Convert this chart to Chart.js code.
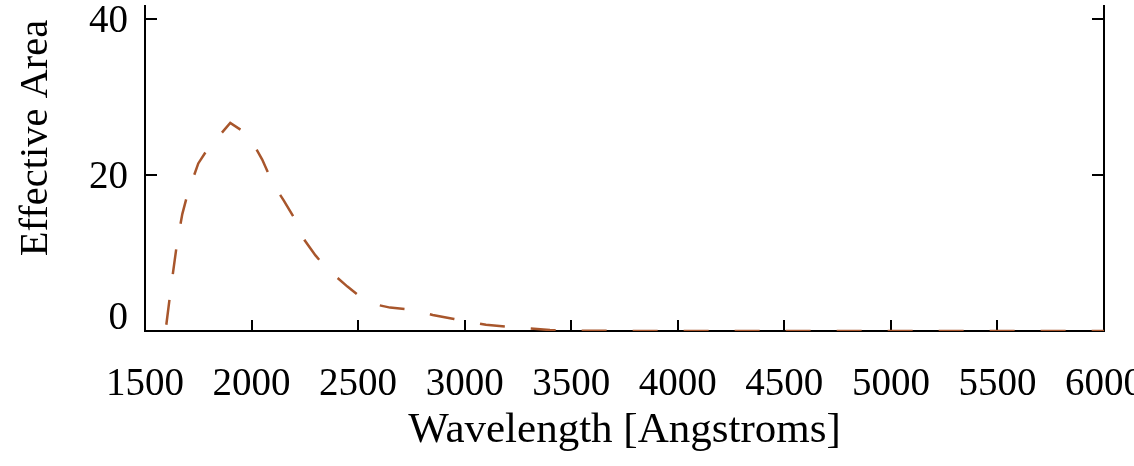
<!DOCTYPE html>
<html>
<head>
<meta charset="utf-8">
<title>Effective Area</title>
<script src="https://cdn.jsdelivr.net/npm/chart.js@4.4.1/dist/chart.umd.min.js"></script>
<style>
    html, body { margin: 0; padding: 0; background: #fff; }
    #wrap { width: 1134px; height: 466px; }
</style>
</head>
<body>
<div id="wrap"><canvas id="chart" width="1134" height="466"></canvas></div>
<script>
// Curve (Angstroms -> effective area)
const wavelengths = [
    1600, 1625, 1650, 1675, 1700, 1750, 1800, 1850, 1900, 1950,
    2000, 2050, 2100, 2150, 2200, 2250, 2300, 2350, 2400, 2450,
    2500, 2550, 2600, 2650, 2750, 2850, 2950, 3000, 3100, 3200,
    3300, 3400, 3500, 4000, 4500, 5000, 5500, 6000
];
const effectiveArea = [
    0.8, 6.2, 11.2, 15.0, 17.6, 21.5, 23.6, 25.1, 26.7, 25.8,
    24.4, 22.0, 18.9, 16.8, 14.5, 11.6, 9.7, 8.1, 6.9, 5.7,
    4.6, 3.7, 3.3, 3.0, 2.75, 2.05, 1.55, 1.3, 0.8, 0.55,
    0.35, 0.12, 0.03, 0, 0, 0, 0, 0
];
const xTicks = [1500, 2000, 2500, 3000, 3500, 4000, 4500, 5000, 5500, 6000];
const yTicks = [0, 20, 40];

const xTitle = 'Wavelength [Angstroms]';
const yTitle = 'Effective Area';

const FONT = 'Liberation Serif';
const TICK_SIZE = 39;
const LINE_COLOR = '#a8562c';

// Tick marks point into the plot, like the original IDL-style figure
const inwardTicks = {
    id: 'inwardTicks',
    beforeDatasetsDraw(chart) {
        const { ctx, chartArea, scales } = chart;
        ctx.save();
        ctx.strokeStyle = '#000';
        ctx.lineWidth = 2;
        ctx.beginPath();
        xTicks.forEach(v => {
            if (v <= scales.x.min || v >= scales.x.max) return;
            const px = Math.round(scales.x.getPixelForValue(v));
            ctx.moveTo(px, chartArea.bottom);
            ctx.lineTo(px, chartArea.bottom - 11);
        });
        yTicks.forEach(v => {
            if (v <= scales.y.min) return;
            const py = Math.round(scales.y.getPixelForValue(v));
            ctx.moveTo(chartArea.left, py);
            ctx.lineTo(chartArea.left + 12, py);
            ctx.moveTo(chartArea.right, py);
            ctx.lineTo(chartArea.right - 12, py);
        });
        ctx.stroke();
        ctx.restore();
    },
    afterDraw(chart) {
        const { ctx, chartArea, scales } = chart;
        ctx.save();
        ctx.fillStyle = '#000';

        // y tick labels: sit slightly below their tick, but never below the x axis
        ctx.font = `${TICK_SIZE}px "${FONT}"`;
        ctx.textAlign = 'right';
        ctx.textBaseline = 'middle';
        yTicks.forEach(v => {
            const py = scales.y.getPixelForValue(v);
            const cy = Math.min(py + 3, chartArea.bottom - 12);
            ctx.fillText(String(v), chartArea.left - 17, cy);
        });

        // y title sits a little above the axis centre in the reference
        ctx.translate(47, 138);
        ctx.rotate(-Math.PI / 2);
        ctx.font = `40.5px "${FONT}"`;
        ctx.textAlign = 'center';
        ctx.textBaseline = 'alphabetic';
        ctx.fillText(yTitle, 0, 0);
        ctx.restore();
    }
};

const tickFont = { family: FONT, size: TICK_SIZE };

const config = {
    type: 'line',
    data: {
        datasets: [{
            label: yTitle,
            data: wavelengths.map((w, i) => ({ x: w, y: effectiveArea[i] })),
            borderColor: LINE_COLOR,
            borderWidth: 2.5,
            borderDash: [25, 26],
            pointRadius: 0,
            tension: 0,
            fill: false
        }]
    },
    options: {
        responsive: false,
        animation: false,
        devicePixelRatio: 1,
        layout: { padding: { top: 6, right: 0, bottom: 0, left: 0 } },
        plugins: {
            legend: { display: false },
            tooltip: { enabled: false }
        },
        scales: {
            x: {
                type: 'linear',
                min: 1500,
                max: 6000,
                afterBuildTicks: s => { s.ticks = xTicks.map(v => ({ value: v })); },
                grid: { display: false },
                border: { display: true, color: '#000', width: 2 },
                ticks: {
                    color: '#000',
                    font: tickFont,
                    padding: 22,
                    maxRotation: 0,
                    autoSkip: false,
                    callback: v => String(v)
                },
                title: {
                    display: true,
                    text: xTitle,
                    color: '#000',
                    font: { family: FONT, size: 43 },
                    padding: { top: 0, bottom: 9 }
                },
                afterFit: s => { s.height = 135; s.paddingLeft = 0; s.paddingRight = 0; }
            },
            y: {
                type: 'linear',
                position: 'left',
                min: 0,
                max: 41.7,
                afterBuildTicks: s => { s.ticks = yTicks.map(v => ({ value: v })); },
                grid: { display: false },
                border: { display: true, color: '#000', width: 2 },
                ticks: { display: false },
                afterFit: s => { s.width = 145; s.paddingTop = 0; s.paddingBottom = 0; }
            },
            y2: {
                type: 'linear',
                position: 'right',
                min: 0,
                max: 41.7,
                grid: { display: false },
                border: { display: true, color: '#000', width: 2 },
                ticks: { display: false },
                afterFit: s => { s.width = 30; s.paddingTop = 0; s.paddingBottom = 0; }
            }
        }
    },
    plugins: [inwardTicks]
};

new Chart(document.getElementById('chart'), config);
</script>
</body>
</html>
